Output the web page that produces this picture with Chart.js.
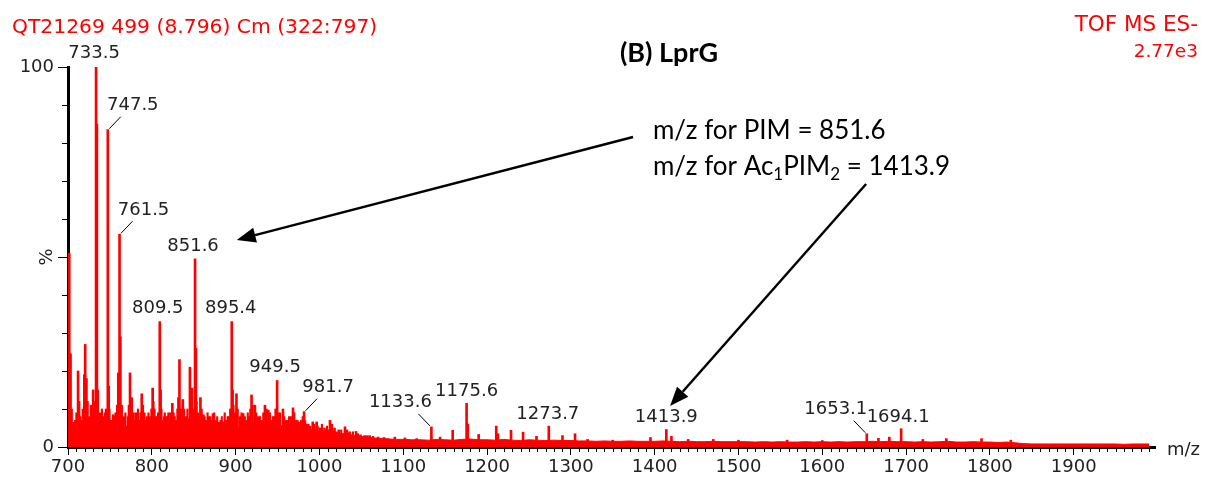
<!DOCTYPE html>
<html>
<head>
<meta charset="utf-8">
<script src="https://cdn.jsdelivr.net/npm/chart.js@4.4.1/dist/chart.umd.min.js"></script>
<style>
  html, body { margin: 0; padding: 0; background: #fff; }
  #wrap { width: 1210px; height: 485px; }
</style>
</head>
<body>
<div id="wrap"><canvas id="ms" width="1210" height="485"></canvas></div>
<script>
// Picos del espectro (m/z y % de intensidad relativa)
const peakMz = [
  701.5, 703, 706, 708.5, 712, 716, 719.5, 720.5, 722, 725, 727.5, 730, 732,
  733.5, 734.5, 735.5, 738, 742, 745.5, 747.5, 748.5, 751, 754, 757, 760,
  761.5, 762.5, 764, 767, 770, 774, 776, 778, 781, 785, 788, 791, 794.5, 798,
  801, 803, 806, 809.5, 810.5, 813, 817, 820, 822.5, 824.5, 827, 829, 833,
  835, 837, 840, 843.5, 845.5, 848, 850, 851.6, 852.6, 855, 858, 861.5, 865,
  868, 873, 876, 880, 885, 889, 892, 895.4, 896.4, 899, 901, 905, 909, 913,
  916, 919, 923, 927, 931, 935, 936.5, 939, 943, 946, 949.5, 951, 956.5, 960,
  964, 968.5, 972, 976, 981.7, 985, 989, 992, 996.7, 1001, 1006, 1012.6,
  1018, 1023, 1030.5, 1036, 1043.7, 1049, 1054, 1060, 1070, 1077, 1090, 1102,
  1116, 1133.6, 1144, 1159, 1175.6, 1177, 1190, 1211, 1213, 1228.6, 1243,
  1259, 1273.7, 1290, 1305, 1320, 1350, 1395, 1413.9, 1420, 1440, 1470, 1500,
  1558, 1600, 1653.1, 1667, 1680, 1694.1, 1720, 1748, 1790, 1825
];
const peakInt = [
  51, 24.5, 6, 7, 20, 7, 19, 27, 18, 8, 11, 15, 12,
  100, 85, 15, 9, 8, 10, 83.5, 16, 7, 8.5, 9, 19.5,
  56, 29, 11, 8, 5.5, 19.5, 13, 9, 9, 7, 14, 9, 8, 8,
  15.5, 10, 8, 33, 15, 7, 8, 9, 9, 11.5, 8, 7, 23,
  10, 12.5, 8, 7.5, 21, 15.5, 9, 49.5, 26, 9, 13, 8.5, 7,
  8, 8.8, 7, 6.5, 6.6, 7, 8, 33, 15, 9, 14, 8, 8.8, 7,
  8, 13.7, 11, 8, 7, 11, 10, 9.7, 7, 8, 17.5, 9, 10, 7,
  8, 10.3, 7, 6.5, 9.3, 6, 5.5, 6.6, 6.6, 5, 5, 7,
  5, 4.5, 5.3, 4, 4.1, 3.2, 3, 3, 2.6, 2.5, 2.6, 2.4,
  2.2, 5.3, 2.6, 4.4, 11.5, 6, 3.3, 5.5, 3.5, 4.4, 3.9,
  2.8, 5.5, 3, 3.5, 2, 1.8, 2.5, 4.6, 2.8, 2, 2, 1.8,
  1.8, 1.7, 3.5, 2.3, 2.6, 4.8, 2, 2.2, 2.2, 1.8
];
// Picos pequeños del ruido entre 700 y 1065
const noiseMz = [
  700.5, 704.5, 707, 710, 713.5, 714.5, 717.5, 723.5, 726.5, 728.5, 736.5, 739.5,
  740.5, 743.5, 744, 746.5, 749.5, 752.5, 755.5, 758.5, 763.5, 765.5, 768.5, 771.5,
  772.5, 775, 779.5, 782.5, 783.5, 786.5, 789.5, 792.5, 796, 799.5, 802, 804.5,
  807.5, 811.5, 814.5, 815.5, 818.5, 821, 826, 830.5, 831.5, 834, 838.5, 841.5,
  842.5, 846.5, 849, 853.5, 856.5, 859.5, 863, 866.5, 870, 871.5, 874.5, 878,
  882, 883.5, 887, 890.5, 893.5, 897.5, 902.5, 907, 911, 914.5, 917.5, 920.5,
  924.5, 929, 933, 937.5, 941, 944.5, 947.5, 953, 958, 962, 966, 970,
  974, 978, 980, 983, 987, 994, 998, 1003, 1009, 1015, 1026, 1033,
  1040, 1046, 1057, 1064
];
const noiseInt = [
  9, 10, 6.5, 9, 12, 8, 10, 12, 7, 9, 8, 7,
  10, 7, 9, 8, 10, 7, 8, 11, 9, 7, 9, 8,
  11, 9, 7, 8, 10, 9, 11, 7, 9, 10, 12, 8,
  9, 10, 8, 9, 8, 7, 9, 10, 13, 9, 10, 8,
  10, 13, 10, 12, 8, 10, 8, 9, 8, 7, 9, 8,
  7, 8, 9, 8, 10, 11, 10, 9, 8, 9, 10, 11,
  9, 8, 9, 8, 9, 8, 10, 9, 8, 7, 8, 9,
  7, 7, 8, 7, 6, 6, 5.5, 6, 5.5, 6, 4.5, 4.5,
  4, 3.5, 3, 2.8
];
// Fondo de ruido: 700..1100 cada 5, luego 1110..1990 cada 10
const floorA = [
  5, 4, 4.5, 5, 6, 4.5, 5.5, 6, 4.5, 5, 5.5, 4.5, 6, 5, 4, 5, 4.5, 5, 5.5, 4.5,
  5, 5.5, 6, 5, 5.5, 6, 5, 6, 5.5, 6, 6.5, 6, 5, 4.5, 5.5, 5, 4.5, 5, 5, 6,
  5.5, 5, 5.5, 6, 6.5, 5.5, 5, 6, 6, 5, 6, 5.5, 5, 5.5, 5, 5.5, 5.5, 5, 4.5, 4.5,
  4, 4, 4.5, 4.5, 4, 3.5, 3.5, 3.5, 3, 3, 2.8, 2.6, 2.6, 2.4, 2.3, 2.2, 2.2, 2.1,
  2, 2, 2
];
const floorB = [
  1.9, 1.9, 1.8, 2, 1.9, 1.8, 2, 2.1, 1.9,
  1.9, 1.8, 2, 1.8, 1.7, 1.9, 1.8, 1.7, 1.8, 1.7,
  1.7, 1.6, 1.6, 1.5, 1.6, 1.5, 1.5, 1.6, 1.5, 1.5,
  1.5, 1.6, 1.5, 1.4, 1.5, 1.4, 1.4, 1.5, 1.4, 1.4,
  1.4, 1.4, 1.3, 1.4, 1.3, 1.4, 1.3, 1.3, 1.4, 1.3,
  1.4, 1.3, 1.4, 1.3, 1.4, 1.4, 1.5, 1.4, 1.5, 1.4,
  1.4, 1.3, 1.4, 1.3, 1.4, 1.5, 1.3, 1.3, 1.4, 1.3,
  1.3, 1.2, 1.3, 1.1, 0.9, 0.8, 0.8, 0.8, 0.8, 0.8,
  0.8, 0.8, 0.8, 0.8, 0.8, 0.8, 0.7, 0.8, 0.8, 0.8
];
// Picos etiquetados
const labelMz = [733.5, 747.5, 761.5, 809.5, 851.6, 895.4, 949.5, 981.7, 1133.6, 1175.6, 1273.7, 1413.9, 1653.1, 1694.1];
const labelTxt = ["733.5", "747.5", "761.5", "809.5", "851.6", "895.4", "949.5", "981.7", "1133.6", "1175.6", "1273.7", "1413.9", "1653.1", "1694.1"];
// Marcas del eje x
const xTicks = [700, 800, 900, 1000, 1100, 1200, 1300, 1400, 1500, 1600, 1700, 1800, 1900];

const ROJO = "#ff0000";

const peakData = peakMz.map((mz, i) => ({ x: mz, y: peakInt[i] }));
const noiseData = noiseMz.map((mz, i) => ({ x: mz, y: noiseInt[i] }));
const floorData = floorA.map((v, i) => ({ x: 700 + i * 5, y: v }))
  .concat(floorB.map((v, i) => ({ x: 1110 + i * 10, y: v })));

// Desplazamiento de cada etiqueta respecto a la punta del pico (px) y línea guía
const colocacion = {
  "733.5": [-2, -14], "747.5": [25, -24, 1], "761.5": [24, -24, 1],
  "809.5": [-2, -13], "851.6": [-2, -13], "895.4": [-1, -13],
  "949.5": [-2, -13], "981.7": [24, -24, 1], "1133.6": [-31, -25, -1],
  "1175.6": [0, -12], "1273.7": [-1, -12], "1413.9": [0, -12],
  "1653.1": [-31, -24, -1], "1694.1": [-3, -11]
};

function linea(ctx, x1, y1, x2, y2) {
  ctx.beginPath(); ctx.moveTo(x1, y1); ctx.lineTo(x2, y2); ctx.stroke();
}

function flecha(ctx, x1, y1, x2, y2) {
  const ang = Math.atan2(y2 - y1, x2 - x1);
  const largo = 19, ancho = 7.5;
  const bx = x2 - largo * Math.cos(ang), by = y2 - largo * Math.sin(ang);
  ctx.lineWidth = 2.5;
  linea(ctx, x1, y1, bx, by);
  ctx.beginPath();
  ctx.moveTo(x2, y2);
  ctx.lineTo(bx + ancho * Math.sin(ang), by - ancho * Math.cos(ang));
  ctx.lineTo(bx - ancho * Math.sin(ang), by + ancho * Math.cos(ang));
  ctx.closePath();
  ctx.fill();
}

const anotaciones = {
  id: "anotaciones",
  afterDraw(chart) {
    const { ctx, scales: { x, y } } = chart;
    ctx.save();
    ctx.strokeStyle = "#000";
    ctx.fillStyle = "#000";
    ctx.lineWidth = 1;

    // Marcas menores del eje x (cada 10)
    for (let v = 710; v < 1997; v += 10) {
      if (v % 100 === 0) continue;
      const px = Math.round(x.getPixelForValue(v)) + 0.5;
      linea(ctx, px, y.bottom + 1, px, y.bottom + 5);
    }
    // Marcas menores del eje y (cada 10)
    for (let v = 10; v < 100; v += 10) {
      if (v === 50) continue;
      const py = Math.round(y.getPixelForValue(v)) + 0.5;
      linea(ctx, x.left - 6, py, x.left, py);
    }

    // "%" del eje y
    ctx.save();
    ctx.translate(47, y.getPixelForValue(50));
    ctx.rotate(-Math.PI / 2);
    ctx.font = "18px 'DejaVu Sans'";
    ctx.fillStyle = "#222";
    ctx.textAlign = "center";
    ctx.textBaseline = "middle";
    ctx.fillText("%", 0, 0);
    ctx.restore();

    // "m/z" al final del eje x
    ctx.font = "18px 'DejaVu Sans'";
    ctx.fillStyle = "#222";
    ctx.textAlign = "left";
    ctx.textBaseline = "middle";
    ctx.fillText("m/z", x.right + 12, y.bottom + 3);

    // Etiquetas de los picos
    ctx.textAlign = "center";
    ctx.textBaseline = "middle";
    labelMz.forEach((mz, i) => {
      const h = peakInt[peakMz.indexOf(mz)];
      const px = x.getPixelForValue(mz), py = y.getPixelForValue(h);
      const [dx, dy, guia] = colocacion[labelTxt[i]];
      ctx.fillText(labelTxt[i], px + dx, py + dy);
      if (guia) {
        ctx.lineWidth = 1;
        linea(ctx, px + guia * 1.5, py - 1, px + guia * 13, py - 13);
      }
    });

    // Cabeceras en rojo
    ctx.fillStyle = ROJO;
    ctx.textBaseline = "alphabetic";
    ctx.textAlign = "left";
    ctx.font = "20.3px 'DejaVu Sans'";
    ctx.fillText("QT21269 499 (8.796) Cm (322:797)", 12, 33);
    ctx.textAlign = "right";
    ctx.font = "21.5px 'DejaVu Sans'";
    ctx.fillText("TOF MS ES-", 1198, 31);
    ctx.font = "18.5px 'DejaVu Sans'";
    ctx.fillText("2.77e3", 1198, 57);

    // Título
    ctx.fillStyle = "#000";
    ctx.textAlign = "center";
    ctx.font = "bold 27px Lato";
    ctx.fillText("(B) LprG", 669, 62);

    // Texto de las flechas
    ctx.textAlign = "left";
    const tx = x.getPixelForValue(1398);
    const fuente = "26px Lato", sub = "17px Lato";
    ctx.font = fuente;
    ctx.fillText("m/z for PIM = 851.6", tx, y.getPixelForValue(81.05));
    const by = y.getPixelForValue(71.6);
    let cx = tx;
    [["m/z for Ac", 0], ["1", 1], ["PIM", 0], ["2", 1], [" = 1413.9", 0]].forEach(([t, s]) => {
      ctx.font = s ? sub : fuente;
      ctx.fillText(t, cx, by + (s ? 5 : 0));
      cx += ctx.measureText(t).width;
    });

    // Flechas
    flecha(ctx, x.getPixelForValue(1374.2), y.getPixelForValue(81.6), x.getPixelForValue(901.3), y.getPixelForValue(54.5));
    flecha(ctx, x.getPixelForValue(1652.3), y.getPixelForValue(69.2), x.getPixelForValue(1418.4), y.getPixelForValue(10.8));

    ctx.restore();
  }
};

new Chart(document.getElementById("ms"), {
  type: "bar",
  data: {
    datasets: [
      {
        type: "line",
        data: floorData,
        borderColor: ROJO,
        backgroundColor: ROJO,
        borderWidth: 1,
        pointRadius: 0,
        fill: "origin",
        tension: 0,
        order: 3,
      },
      {
        type: "bar",
        data: noiseData,
        backgroundColor: ROJO,
        barThickness: 1.5,
        grouped: false,
        order: 2,
      },
      {
        type: "bar",
        data: peakData,
        backgroundColor: ROJO,
        barThickness: 2,
        grouped: false,
        order: 1,
      },
    ],
  },
  options: {
    responsive: false,
    animation: false,
    devicePixelRatio: 1,
    layout: { padding: { top: 67, right: 55, left: 0, bottom: 0 } },
    plugins: { legend: { display: false }, tooltip: { enabled: false } },
    scales: {
      x: {
        type: "linear",
        min: 700,
        max: 1997,
        offset: false,
        grid: { drawOnChartArea: false, drawTicks: true, tickLength: 8, color: "#000", offset: false },
        border: { display: true, color: "#000", width: 3 },
        ticks: {
          autoSkip: false,
          maxRotation: 0,
          padding: 2,
          color: "#222",
          font: { family: "DejaVu Sans", size: 18 },
          callback: (v) => String(v),
        },
        afterBuildTicks: (s) => { s.ticks = xTicks.map((v) => ({ value: v })); },
        afterFit: (s) => { s.height = 38; },
      },
      y: {
        min: 0,
        max: 100,
        grid: { drawOnChartArea: false, drawTicks: true, tickLength: 10, color: "#000" },
        border: { display: true, color: "#000", width: 3 },
        ticks: {
          stepSize: 50,
          padding: 4,
          color: "#222",
          font: { family: "DejaVu Sans", size: 18 },
          callback: (v) => (v === 50 ? "" : String(v)),
        },
        afterFit: (s) => { s.width = 68; },
      },
    },
  },
  plugins: [anotaciones],
});
</script>
</body>
</html>
